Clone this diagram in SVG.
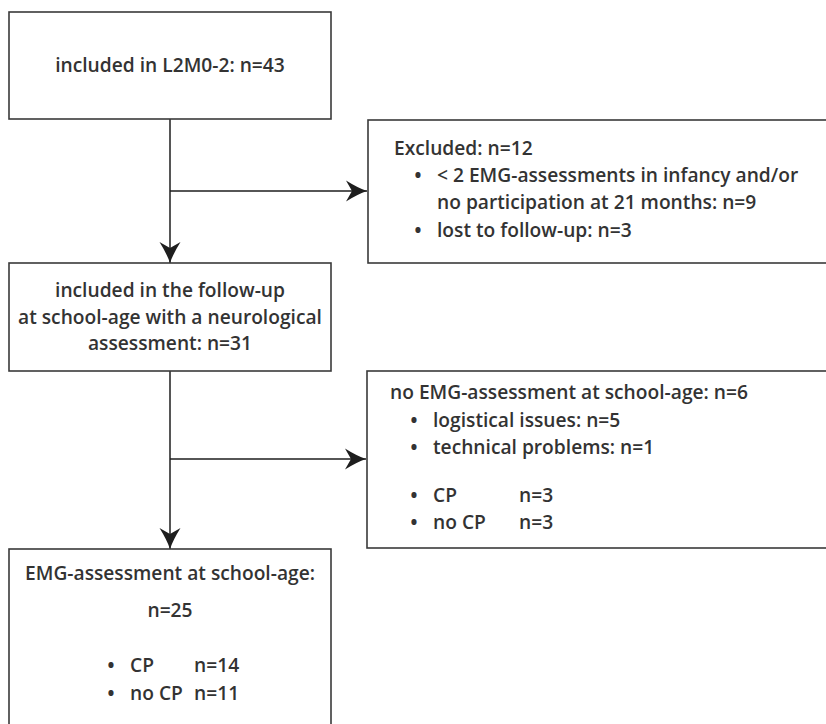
<svg xmlns="http://www.w3.org/2000/svg" width="826" height="724" viewBox="0 0 826 724">
<defs>
<style>
.box{fill:#fff;stroke:#3a3a3a;stroke-width:1.6}
.ln{fill:none;stroke:#1e1e1e;stroke-width:1.5}
text{font-family:"Open Sans","Noto Sans",sans-serif;font-size:19.2px;font-weight:600;fill:#333}
.c{text-anchor:middle}
.b{font-size:21px}
</style>
<marker id="ah" markerUnits="userSpaceOnUse" markerWidth="24" markerHeight="24" viewBox="-22 -12 24 24" refX="0" refY="0" orient="auto">
<path d="M0,0 Q-9,-3 -21,-10.5 L-15,0 L-21,10.5 Q-9,3 0,0 Z" fill="#1e1e1e"/>
</marker>
</defs>
<rect width="826" height="724" fill="#fff"/>
<g id="connectors">
<path class="ln" d="M170,119 V263" marker-end="url(#ah)"/>
<path class="ln" d="M170,191 H367" marker-end="url(#ah)"/>
<path class="ln" d="M170,371 V549" marker-end="url(#ah)"/>
<path class="ln" d="M170,459 H366" marker-end="url(#ah)"/>
</g>
<g id="n1">
<rect class="box" x="9" y="12" width="322" height="107"/>
<text class="c" x="170" y="72">included in L2M0-2: n=43</text>
</g>
<g id="n2">
<rect class="box" x="368" y="120" width="470" height="143"/>
<text x="394" y="155">Excluded: n=12</text>
<text class="b" x="414" y="183">•</text>
<text x="437" y="182">&lt; 2 EMG-assessments in infancy and/or</text>
<text x="437" y="209">no participation at 21 months: n=9</text>
<text class="b" x="414" y="238">•</text>
<text x="437" y="237">lost to follow-up: n=3</text>
</g>
<g id="n3">
<rect class="box" x="9" y="263" width="322" height="108"/>
<text class="c" x="170" y="297">included in the follow-up</text>
<text class="c" x="170" y="324">at school-age with a neurological</text>
<text class="c" x="170" y="350">assessment: n=31</text>
</g>
<g id="n4">
<rect class="box" x="367" y="371" width="470" height="177"/>
<text x="390" y="399">no EMG-assessment at school-age: n=6</text>
<text class="b" x="410" y="428">•</text>
<text x="433" y="427">logistical issues: n=5</text>
<text class="b" x="410" y="455">•</text>
<text x="433" y="454">technical problems: n=1</text>
<text class="b" x="410" y="503">•</text>
<text x="433" y="502">CP</text>
<text x="519" y="502">n=3</text>
<text class="b" x="410" y="530">•</text>
<text x="433" y="529">no CP</text>
<text x="519" y="529">n=3</text>
</g>
<g id="n5">
<rect class="box" x="9" y="549" width="322" height="190"/>
<text class="c" x="170" y="580">EMG-assessment at school-age:</text>
<text class="c" x="170" y="617">n=25</text>
<text class="b" x="107" y="673">•</text>
<text x="130" y="672">CP</text>
<text x="194" y="672">n=14</text>
<text class="b" x="107" y="701">•</text>
<text x="130" y="700">no CP</text>
<text x="194" y="700">n=11</text>
</g>
</svg>
